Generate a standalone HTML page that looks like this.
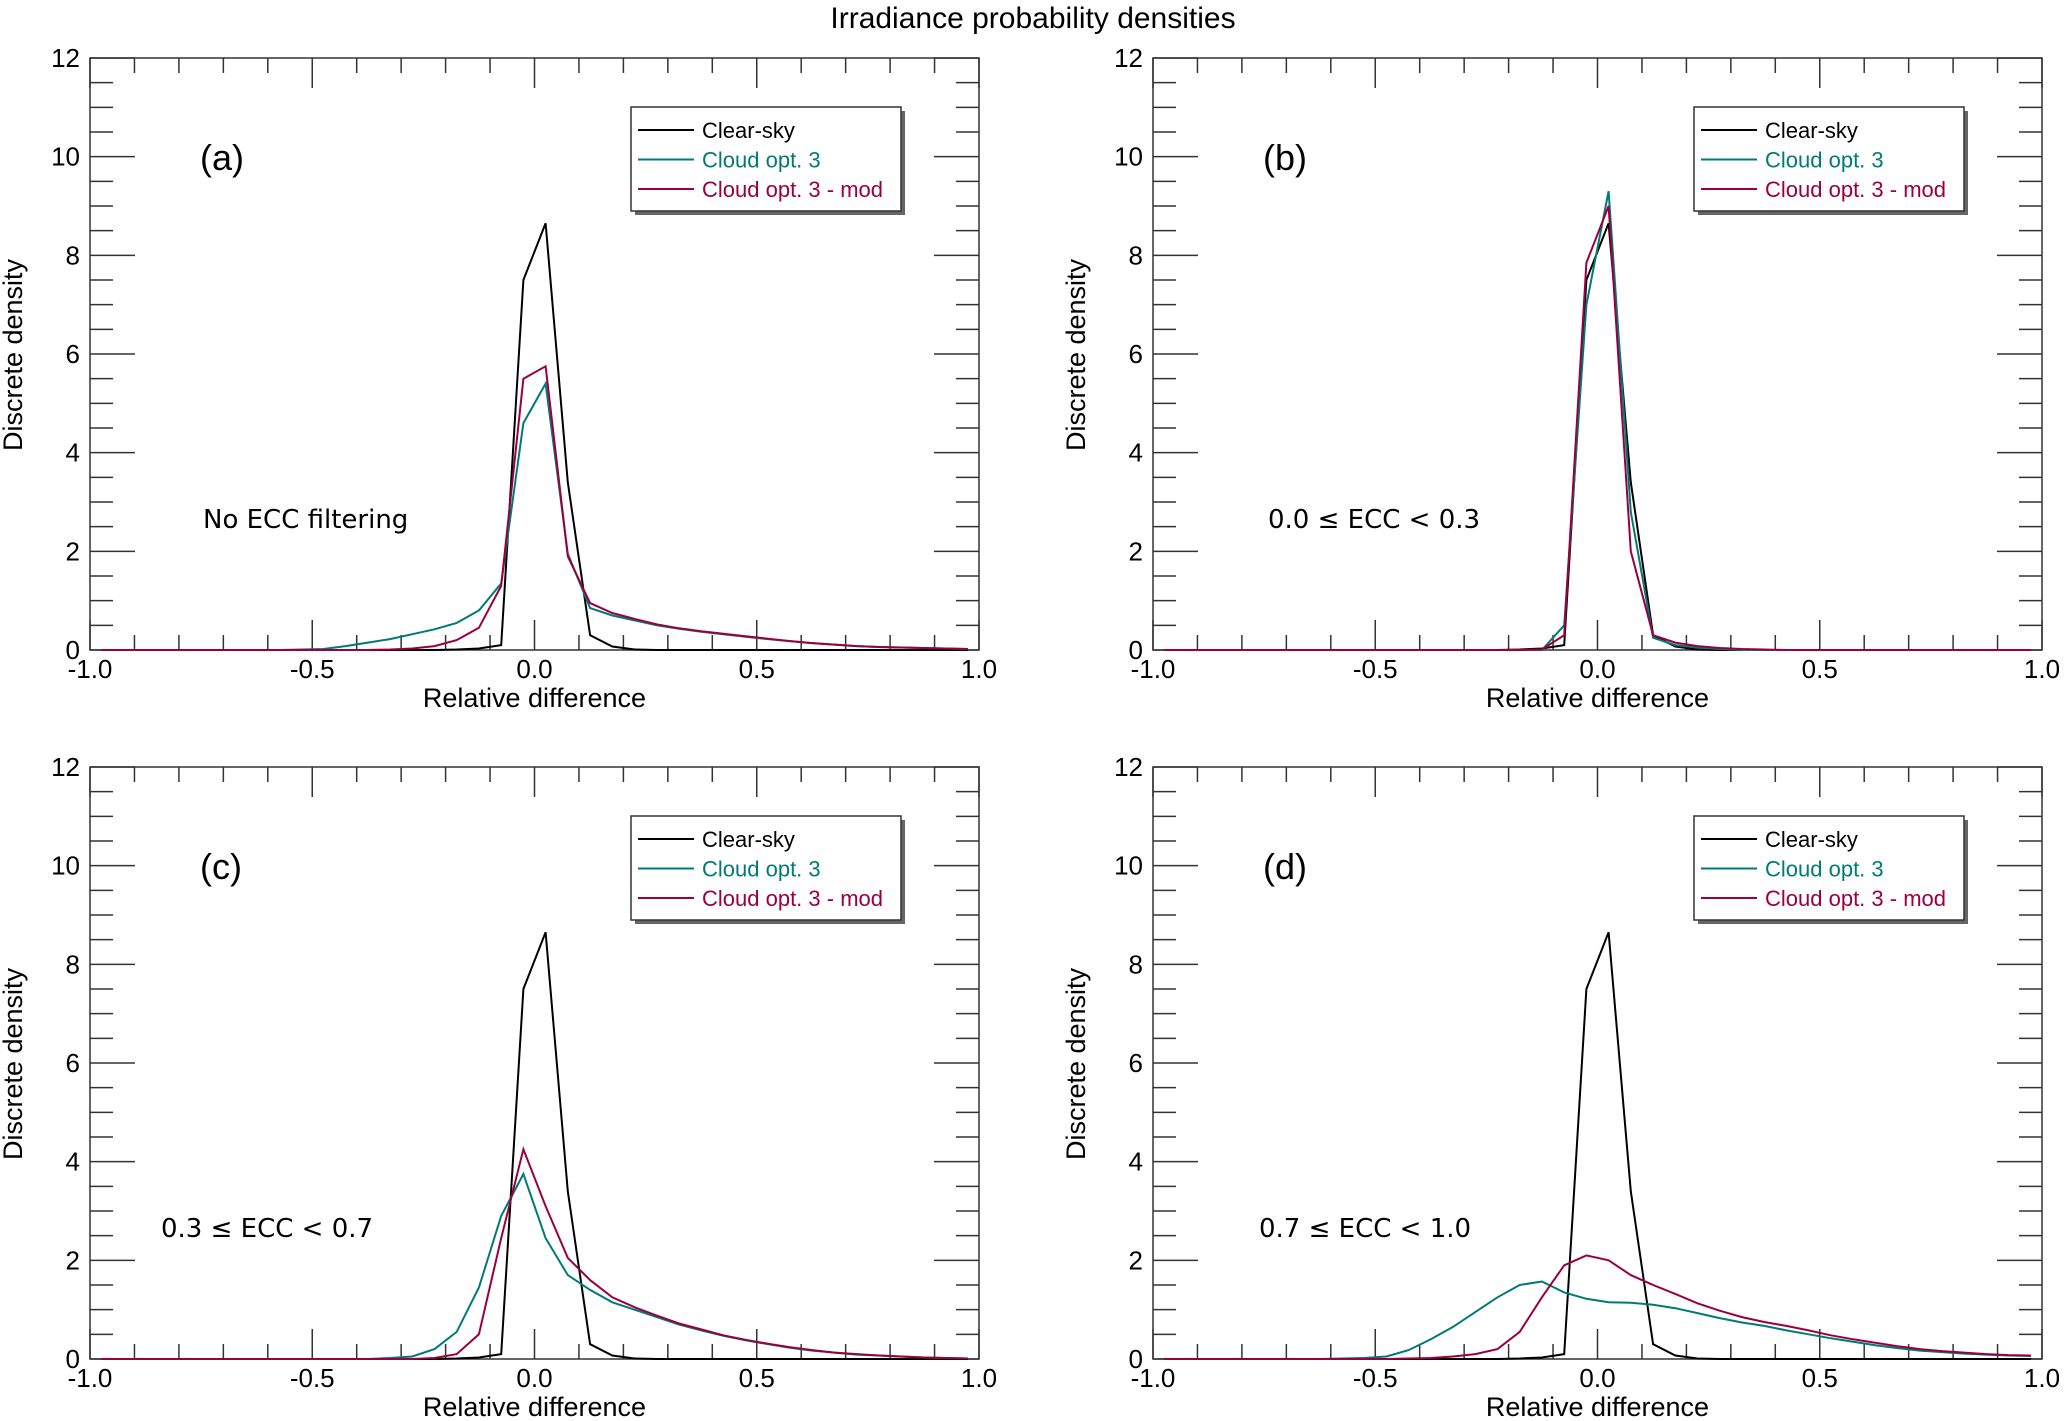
<!DOCTYPE html>
<html><head><meta charset="utf-8"><style>
body{margin:0;background:#fff;}
svg{display:block;font-family:"Liberation Sans",sans-serif;}
</style></head><body>
<svg id="fig" width="2067" height="1421" viewBox="0 0 2067 1421" xmlns="http://www.w3.org/2000/svg">
<text x="1033" y="28" font-size="30" text-anchor="middle">Irradiance probability densities</text>
</svg>
<script>
const bins = [];
for (let i = 0; i < 40; i++) bins.push(-0.975 + i * 0.05);
const clearSky = [0,0,0,0,0,0,0,0,0,0,0,0,0,0,0,0,0.01,0.03,0.1,7.5,8.65,3.4,0.3,0.07,0.01,0,0,0,0,0,0,0,0,0,0,0,0,0,0,0];
const cloudA = [0,0,0,0,0,0,0,0,0,0.01,0.02,0.08,0.15,0.22,0.32,0.42,0.55,0.8,1.35,4.6,5.4,1.95,0.85,0.7,0.6,0.5,0.43,0.37,0.32,0.27,0.22,0.18,0.14,0.11,0.08,0.06,0.05,0.04,0.03,0.02];
const modA = [0,0,0,0,0,0,0,0,0,0,0,0,0,0.01,0.03,0.08,0.2,0.45,1.3,5.5,5.75,1.9,0.95,0.75,0.63,0.52,0.44,0.38,0.33,0.28,0.23,0.18,0.14,0.11,0.08,0.06,0.05,0.04,0.03,0.02];
const cloudB = [0,0,0,0,0,0,0,0,0,0,0,0,0,0,0,0,0,0,0.5,7.0,9.3,2.8,0.25,0.1,0.05,0.02,0,0,0,0,0,0,0,0,0,0,0,0,0,0];
const modB = [0,0,0,0,0,0,0,0,0,0,0,0,0,0,0,0,0,0.01,0.3,7.85,9.0,2.0,0.3,0.15,0.08,0.04,0.02,0.01,0,0,0,0,0,0,0,0,0,0,0,0];
const cloudC = [0,0,0,0,0,0,0,0,0,0,0,0,0,0.02,0.05,0.2,0.55,1.45,2.9,3.75,2.45,1.7,1.4,1.15,1.0,0.85,0.7,0.58,0.47,0.38,0.3,0.23,0.17,0.13,0.09,0.07,0.05,0.03,0.02,0.01];
const modC = [0,0,0,0,0,0,0,0,0,0,0,0,0,0,0,0.02,0.1,0.5,2.45,4.25,3.1,2.05,1.6,1.25,1.05,0.88,0.72,0.6,0.48,0.39,0.31,0.24,0.18,0.13,0.1,0.07,0.05,0.03,0.02,0.01];
const cloudD = [0,0,0,0,0,0,0,0,0.01,0.02,0.05,0.18,0.4,0.65,0.95,1.25,1.5,1.57,1.35,1.22,1.15,1.14,1.1,1.03,0.93,0.83,0.74,0.67,0.58,0.5,0.42,0.35,0.28,0.22,0.17,0.14,0.11,0.09,0.07,0.06];
const modD = [0,0,0,0,0,0,0,0,0,0,0,0.01,0.02,0.05,0.1,0.2,0.55,1.25,1.9,2.1,2.0,1.7,1.5,1.32,1.13,0.98,0.85,0.75,0.67,0.58,0.48,0.4,0.33,0.26,0.2,0.16,0.13,0.1,0.08,0.07];
const xTickLabels = ["-1.0","-0.5","0.0","0.5","1.0"];
const yTickLabels = ["0","2","4","6","8","10","12"];
const legendLabels = ["Clear-sky","Cloud opt. 3","Cloud opt. 3 - mod"];
const colors = ["#000000","#007a78","#9a0040"];

const NS = "http://www.w3.org/2000/svg";
const svg = document.getElementById('fig');
function mk(tag, attrs, parent, text) {
  const e = document.createElementNS(NS, tag);
  for (const k in attrs) e.setAttribute(k, attrs[k]);
  if (text !== undefined) e.textContent = text;
  (parent || svg).appendChild(e);
  return e;
}
const panels = [
  {id:'a', L:90, T:58, series:[clearSky,cloudA,modA], note:"No ECC filtering", nx:203, ny:528},
  {id:'b', L:1153, T:58, series:[clearSky,cloudB,modB], note:"0.0 \u2264 ECC < 0.3", nx:1268, ny:528},
  {id:'c', L:90, T:767, series:[clearSky,cloudC,modC], note:"0.3 \u2264 ECC < 0.7", nx:161, ny:1237},
  {id:'d', L:1153, T:767, series:[clearSky,cloudD,modD], note:"0.7 \u2264 ECC < 1.0", nx:1259, ny:1237}
];
const W = 889, H = 592;
panels.forEach(p => {
  const g = mk('g', {});
  
  
  const xs = v => p.L + (v + 1) / 2 * W;
  const ys = v => p.T + H - v / 12 * H;
  for (let i = 0; i <= 20; i++) {
    const v = -1 + i * 0.1, x = xs(v), major = i % 5 === 0, len = major ? 30 : 15;
    mk('line', {x1:x, y1:p.T+H, x2:x, y2:p.T+H-len, stroke:'#333', 'stroke-width':1.5}, g);
    mk('line', {x1:x, y1:p.T, x2:x, y2:p.T+len, stroke:'#333', 'stroke-width':1.5}, g);
  }
  for (let i = 0; i <= 24; i++) {
    const v = i * 0.5, y = ys(v), major = i % 4 === 0, len = major ? 45 : 23;
    mk('line', {x1:p.L, y1:y, x2:p.L+len, y2:y, stroke:'#333', 'stroke-width':1.5}, g);
    mk('line', {x1:p.L+W, y1:y, x2:p.L+W-len, y2:y, stroke:'#333', 'stroke-width':1.5}, g);
  }
  const frame = mk('rect', {x:p.L, y:p.T, width:W, height:H, fill:'none', stroke:'#333', 'stroke-width':1.5}, g);
  
  
  xTickLabels.forEach((t, i) => {
    const e = mk('text', {x:xs(-1 + i * 0.5), y:p.T+H+28, 'font-size':26, 'text-anchor':'middle'}, g, t);
    
    
  });
  yTickLabels.forEach((t, i) => {
    const e = mk('text', {x:p.L-10, y:ys(i * 2)+9, 'font-size':26, 'text-anchor':'end'}, g, t);
    
    
  });
  const xt = mk('text', {x:p.L+W/2, y:p.T+H+57, 'font-size':27, 'text-anchor':'middle'}, g, 'Relative difference');
  
  
  const yx = p.L - 68, yy = p.T + 297;
  const yt = mk('text', {x:yx, y:yy, 'font-size':27, 'text-anchor':'middle', transform:`rotate(-90 ${yx} ${yy})`}, g, 'Discrete density');
  
  
  p.series.forEach((s, k) => {
    const pts = s.map((v, i) => xs(bins[i]).toFixed(1) + ',' + ys(v).toFixed(1)).join(' ');
    const pl = mk('polyline', {points:pts, fill:'none', stroke:colors[k], 'stroke-width':2, 'stroke-linejoin':'miter'}, g);
    
    
  });
  const lb = mk('text', {x:p.L+110, y:p.T+112, 'font-size':36}, g, '(' + p.id + ')');
  
  
  const nt = mk('text', {x:p.nx, y:p.ny, 'font-size':26, 'font-family':'DejaVu Sans, sans-serif'}, g, p.note);
  
  
  const lx = p.L + 541, ly = p.T + 49;
  const lg = mk('g', {}, g);
  
  
  mk('rect', {x:lx+4, y:ly+4, width:270, height:104, fill:'#666'}, lg);
  mk('rect', {x:lx, y:ly, width:270, height:104, fill:'#fff', stroke:'#333', 'stroke-width':1.5}, lg);
  legendLabels.forEach((t, k) => {
    const y = ly + 23 + k * 29.5;
    const le = mk('g', {}, lg);
    
    
    mk('line', {x1:lx+7, y1:y, x2:lx+63, y2:y, stroke:colors[k], 'stroke-width':2}, le);
    mk('text', {x:lx+71, y:y+8, 'font-size':22, fill:colors[k]}, le, t);
  });
});
</script>
</body></html>
